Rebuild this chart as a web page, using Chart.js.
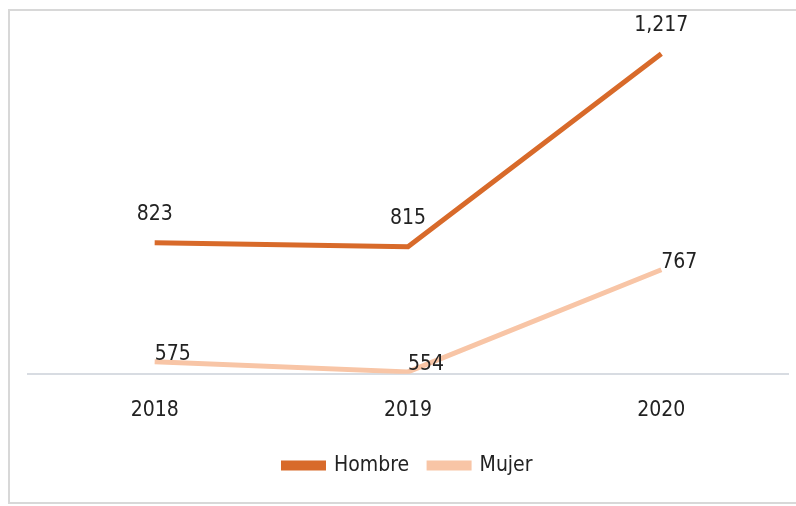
<!DOCTYPE html>
<html>
<head>
<meta charset="utf-8">
<script src="https://cdn.jsdelivr.net/npm/chart.js@4/dist/chart.umd.min.js"></script>
<style>
  body { margin: 0; background: #fff; }
  #wrap { position: relative; width: 796px; height: 506px; overflow: hidden; }
  #frame { position: absolute; left: 8px; top: 9px; width: 840px; height: 491px; border: 2px solid #d8d8d8; }
  canvas { position: absolute; left: 0; top: 0; }
</style>
</head>
<body>
<div id="wrap">
  <div id="frame"></div>
  <canvas id="lineChart" width="796" height="506"></canvas>
</div>
<script>
const years = ['2018', '2019', '2020'];
const hombre = [823, 815, 1217];
const mujer = [575, 554, 767];

const FONT = "'DejaVu Sans Condensed', 'Liberation Sans Narrow', sans-serif";

// draws the value above / beside each point
const valueLabels = {
    id: 'valueLabels',
    afterDatasetsDraw(chart) {
        const ctx = chart.ctx;
        ctx.save();
        ctx.font = '21px ' + FONT;
        ctx.fillStyle = '#222';
        chart.data.datasets.forEach((ds, i) => {
            const meta = chart.getDatasetMeta(i);
            meta.data.forEach((pt, j) => {
                const txt = ds.data[j].toLocaleString('en-US');
                if (i === 0) {
                    ctx.textAlign = 'center';
                    ctx.textBaseline = 'bottom';
                    ctx.fillText(txt, pt.x, pt.y - 18);
                } else {
                    ctx.textAlign = 'left';
                    ctx.textBaseline = 'middle';
                    ctx.fillText(txt, pt.x, pt.y - 7);
                }
            });
        });
        ctx.restore();
    }
};

function LoadLineChart() {
    const ctx = document.getElementById('lineChart').getContext('2d');
    new Chart(ctx, {
        type: 'line',
        data: {
            labels: years,
            datasets: [
                {
                    label: 'Hombre',
                    data: hombre,
                    borderColor: '#d86a2a',
                    backgroundColor: '#d86a2a',
                    borderWidth: 5,
                    pointRadius: 0,
                    tension: 0,
                },
                {
                    label: 'Mujer',
                    data: mujer,
                    borderColor: '#f8c5a6',
                    backgroundColor: '#f8c5a6',
                    borderWidth: 5,
                    pointRadius: 0,
                    tension: 0,
                }
            ]
        },
        options: {
            responsive: false,
            animation: false,
            layout: { padding: { left: 28, right: 8, top: 14, bottom: 20 } },
            scales: {
                x: {
                    offset: true,
                    grid: { display: false, drawTicks: false },
                    border: { color: '#d8dce2', width: 2 },
                    ticks: { color: '#222', font: { family: FONT, size: 21 }, padding: 24 },
                    afterFit: (scale) => { scale.height -= 12; }
                },
                y: {
                    display: false,
                    min: 550,
                    max: 1300
                }
            },
            plugins: {
                legend: {
                    position: 'bottom',
                    labels: {
                        boxWidth: 40,
                        boxHeight: 5,
                        padding: 20,
                        color: '#222',
                        font: { family: FONT, size: 21 }
                    }
                },
                tooltip: { enabled: false }
            }
        },
        plugins: [valueLabels]
    });
}

LoadLineChart();
</script>
</body>
</html>
